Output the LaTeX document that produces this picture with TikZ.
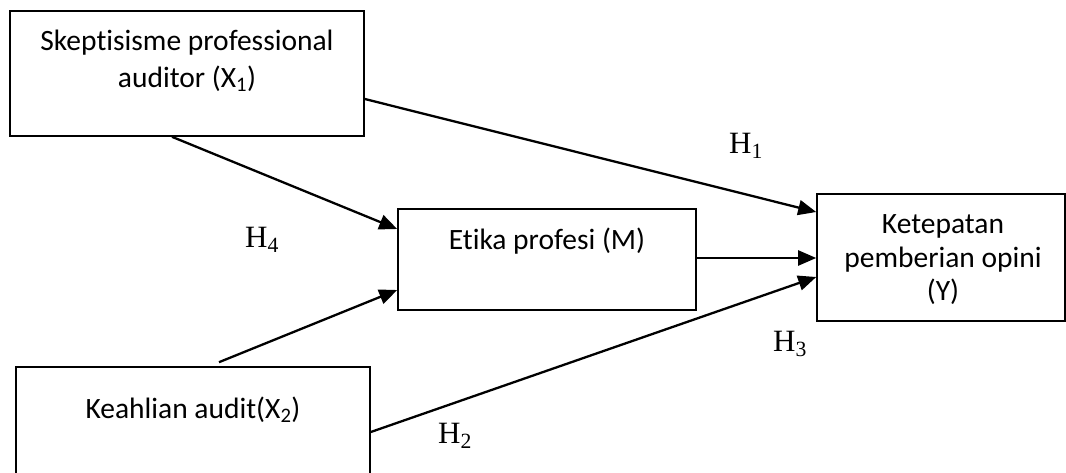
\documentclass[tikz,border=0pt]{standalone}
\usepackage{fontspec}
\setmainfont{Carlito}[Ligatures=NoCommon]
\newfontfamily\hfont{Liberation Serif}
\usetikzlibrary{arrows.meta,calc}
\begin{document}
\begin{tikzpicture}[x=1pt,y=-1pt,
  box/.style={draw,line width=1.6pt,inner sep=0pt},
  txt/.style={font=\fontsize{29.5}{36}\selectfont,anchor=base,inner sep=0pt},
  hyp/.style={font=\hfont\fontsize{31}{36}\selectfont,anchor=base west,inner sep=0pt},
  conn/.style={line width=2.3pt,-{Triangle[length=18pt,width=15pt]}}]
\useasboundingbox (0,0) rectangle (1066,472);
\node[box,minimum width=354pt,minimum height=125pt] (X1) at (187,73.5) {};
\node[box,minimum width=298pt,minimum height=101pt] (M) at (547,259.5) {};
\node[box,minimum width=248pt,minimum height=127pt] (Y) at (941,257.5) {};
\node[box,minimum width=354pt,minimum height=140pt] (X2) at (193,437) {};
% texts
\node[txt] (t1a) at (187,50) {Skeptisisme professional};
\node[txt] (t1b) at (187,87) {auditor (X\textsubscript{1})};
\node[txt] (tm) at (547,249) {Etika profesi (M)};
\node[txt] (ty1) at (943,233) {Ketepatan};
\node[txt] (ty2) at (943,267) {pemberian opini};
\node[txt] (ty3) at (943,300) {(Y)};
\node[txt] (t2) at (193,418) {Keahlian audit(X\textsubscript{2})};
% hypotheses
\node[hyp] (h1) at (729,153) {H\textsubscript{1}};
\node[hyp] (h4) at (245,247) {H\textsubscript{4}};
\node[hyp] (h3) at (773,351) {H\textsubscript{3}};
\node[hyp] (h2) at (438,443) {H\textsubscript{2}};
% connectors
\coordinate (x2top) at ($(X2.north)+(26,-4)$);
\draw[conn] ($(X1.east)+(0,25.5)$) -- ($(Y.west)+(0,-45.5)$);
\draw[conn] ($(X1.south)+(-15,0)$) -- ($(M.west)+(0,-30.5)$);
\draw[conn] (x2top) -- ($(M.west)+(0,30.5)$);
\draw[conn] ($(M.east)+(0,-1.5)$) -- ($(Y.west)+(0,0.5)$);
\draw[conn] ($(X2.east)+(0,-5)$) -- ($(Y.west)+(0,19.5)$);
\end{tikzpicture}
\end{document}
